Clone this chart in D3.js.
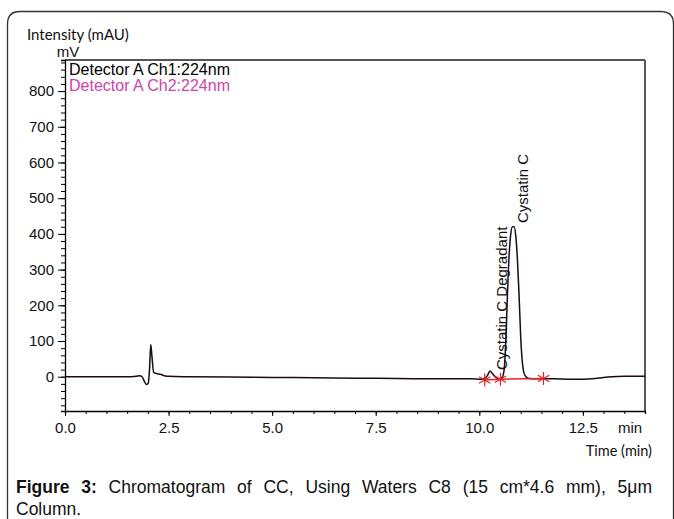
<!DOCTYPE html>
<html><head><meta charset="utf-8">
<script src="https://cdn.jsdelivr.net/npm/d3@7"></script>
<style>body{margin:0;background:#fff}svg{display:block}</style>
</head><body>
<svg id="c" width="674" height="519"></svg>
<script>
// ---- data ----
const xTickLabels = ["0.0","2.5","5.0","7.5","10.0","12.5"];
const xTickValues = [0,2.5,5,7.5,10,12.5];
const yTickValues = [0,100,200,300,400,500,600,700,800];
const times = [0,1.0,1.6,1.72,1.8,1.86,1.92,1.97,2.01,2.04,2.07,2.10,2.14,2.2,2.3,2.4,2.5,3.0,4.0,5.0,6.0,7.0,8.0,9.0,9.8,10.05,10.13,10.2,10.26,10.32,10.4,10.48,10.55,10.6,10.64,10.68,10.72,10.76,10.8,10.84,10.88,10.92,10.96,11.0,11.04,11.08,11.14,11.2,11.4,11.8,12.2,12.5,12.8,13.0,13.2,13.5,14.0];
const intensity = [0,0,0,1,3,0,-14,-22,-18,20,90,55,12,9,7,3,1,0,-1,-2,-3,-4,-5,-6,-6,-7,-5,4,16,8,-2,-6,-2,20,100,230,340,400,420,420,395,330,230,110,40,10,-2,-5,-6,-6,-7,-7,-5,-2,0,1,1];
const peakLabels = ["Cystatin C Degradant","Cystatin C"];
const peakTimes = [10.3,10.85];
const markerTimes = [10.13,10.51,11.55];
const markerValues = [-9,-7,-5];
const legendLabels = ["Detector A Ch1:224nm","Detector A Ch2:224nm"];
const legendColors = ["#000000","#cc44aa"];
const captionBold = "Figure 3:";
const captionLine1 = " Chromatogram of CC, Using Waters C8 (15 cm*4.6 mm), 5μm";
const captionLine2 = "Column.";

const svg = d3.select("#c");
const F = "'Liberation Sans', Arial, sans-serif";
const L = {left:65,right:645,top:60,bottom:411};

// outer rounded frame
svg.append("path")
  .attr("d","M7.5,519 L7.5,24 Q7.5,11.5 20,11.5 L661,11.5 Q673.5,11.5 673.5,24 L673.5,519")
  .attr("fill","none").attr("stroke","#333").attr("stroke-width",1.3);

const x = d3.scaleLinear().domain([0,14]).range([L.left,L.right]);
const y = d3.scaleLinear().domain([-96,887]).range([L.bottom,L.top]);

// frame top/right
svg.append("line").attr("x1",L.left).attr("x2",L.right).attr("y1",L.top).attr("y2",L.top).attr("stroke","#555").attr("stroke-width",2);
svg.append("line").attr("x1",L.right).attr("x2",L.right).attr("y1",L.top).attr("y2",L.bottom).attr("stroke","#555").attr("stroke-width",2);

// x axis
const gx = svg.append("g").attr("transform",`translate(0,${L.bottom})`);
gx.call(d3.axisBottom(x).tickValues(d3.range(0,14.01,0.5)).tickSize(3).tickFormat(""));
gx.call(g=>g.select(".domain").attr("stroke","#000").attr("stroke-width",1.3));
const gx2 = svg.append("g").attr("transform",`translate(0,${L.bottom})`);
gx2.call(d3.axisBottom(x).tickValues(xTickValues).tickSize(5).tickPadding(6).tickFormat((d,i)=>xTickLabels[i]));
gx2.select(".domain").remove();
gx2.selectAll("text").attr("font-family",F).attr("font-size",15).attr("fill","#111");

// y axis
const gy = svg.append("g").attr("transform",`translate(${L.left},0)`);
gy.call(d3.axisLeft(y).tickValues(d3.range(-80,881,20)).tickSize(4).tickFormat(""));
gy.call(g=>g.select(".domain").attr("stroke","#000").attr("stroke-width",1.3));
const gy2 = svg.append("g").attr("transform",`translate(${L.left},0)`);
gy2.call(d3.axisLeft(y).tickValues(yTickValues).tickSize(7).tickPadding(4).tickFormat(d3.format("d")));
gy2.select(".domain").remove();
gy2.selectAll("text").attr("font-family",F).attr("font-size",15).attr("fill","#111");

// axis titles
svg.append("text").attr("x",27).attr("y",40).attr("font-family","Lato, sans-serif").attr("font-size",15).attr("fill","#111").text("Intensity (mAU)");
svg.append("text").attr("x",68).attr("y",57).attr("text-anchor","middle").attr("font-family",F).attr("font-size",15).attr("fill","#111").text("mV");
svg.append("text").attr("x",630).attr("y",433).attr("text-anchor","middle").attr("font-family",F).attr("font-size",15).attr("fill","#111").text("min");
svg.append("text").attr("x",652).attr("y",456).attr("text-anchor","end").attr("font-family","Lato, sans-serif").attr("font-size",14.5).attr("fill","#111").text("Time (min)");

// legend
legendLabels.forEach((t,i)=>{
  svg.append("text").attr("x",69).attr("y",75+i*16).attr("font-family",F).attr("font-size",16).attr("fill",legendColors[i]).text(t);
});

// trace
const pts = times.map((t,i)=>[t,intensity[i]]);
svg.append("path").datum(pts)
  .attr("d",d3.line().x(d=>x(d[0])).y(d=>y(d[1])).curve(d3.curveMonotoneX))
  .attr("fill","none").attr("stroke","#1c0a16").attr("stroke-width",1.5);

// integration baseline + markers
const mk = markerTimes.map((t,i)=>[t,markerValues[i]]);
svg.append("path").datum(mk)
  .attr("d",d3.line().x(d=>x(d[0])).y(d=>y(d[1])))
  .attr("fill","none").attr("stroke","#e8202a").attr("stroke-width",1.5);
const star = d3.symbol().type(d3.symbolAsterisk).size(120);
svg.selectAll(".mk").data(mk).join("path")
  .attr("transform",d=>`translate(${x(d[0])},${y(d[1])})`)
  .attr("d",star).attr("fill","none").attr("stroke","#e8202a").attr("stroke-width",1.2);

// peak labels (rotated)
const labOff = [15,13.5], labY = [370,223];
peakLabels.forEach((t,i)=>{
  svg.append("text").attr("transform",`translate(${x(peakTimes[i])+labOff[i]},${labY[i]}) rotate(-90)`)
    .attr("font-family",F).attr("font-size",15).attr("fill","#111").text(t);
});

// caption (justified first line)
const CF = "'Liberation Sans', Arial, sans-serif";
const c1 = svg.append("text").attr("x",16).attr("y",493).attr("font-family",CF).attr("font-size",17.5).attr("fill","#111");
c1.append("tspan").attr("font-weight","bold").text(captionBold);
c1.append("tspan").text(captionLine1);
const natural = c1.node().getComputedTextLength();
const nSpaces = (captionBold+captionLine1).split(" ").length-1;
c1.attr("word-spacing", Math.max(0,(636-natural)/nSpaces));
svg.append("text").attr("x",16).attr("y",515).attr("font-family",CF).attr("font-size",17.5).attr("fill","#111").text(captionLine2);
</script>
</body></html>
